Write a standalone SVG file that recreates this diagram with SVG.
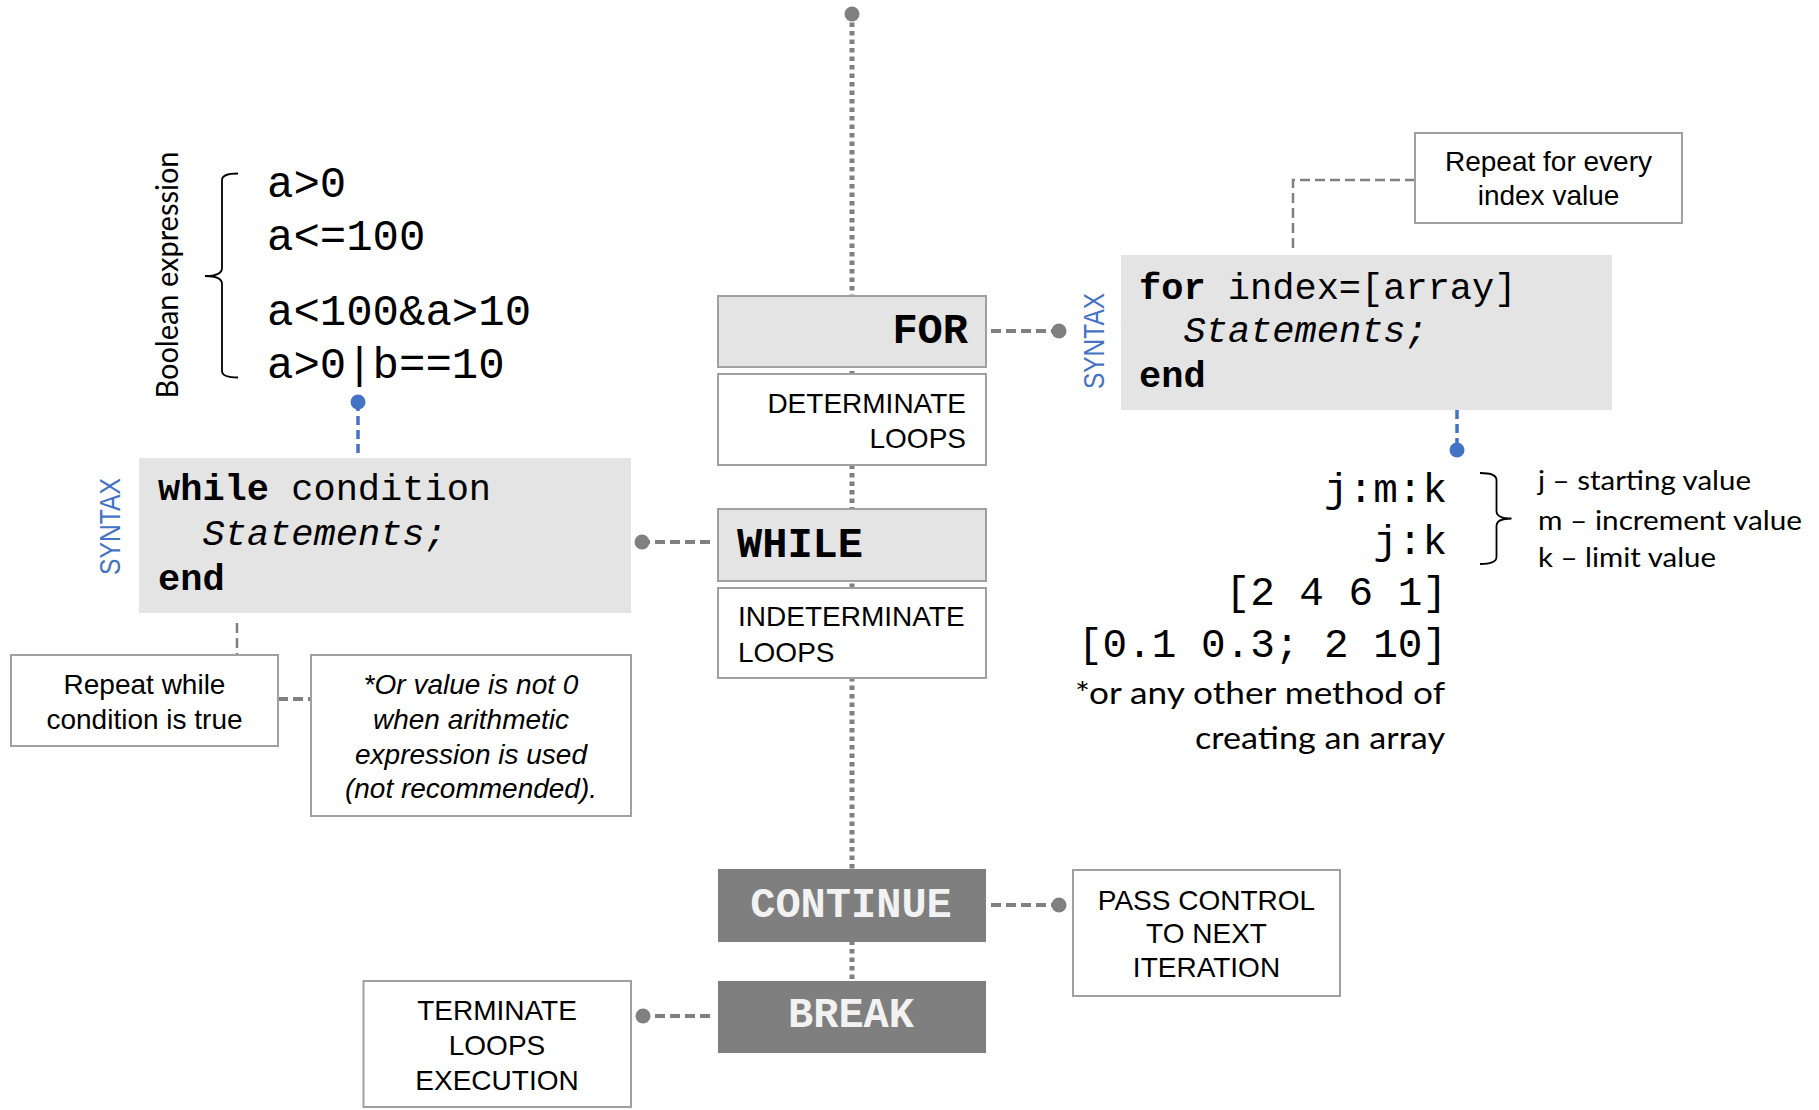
<svg xmlns="http://www.w3.org/2000/svg" width="1819" height="1110" viewBox="0 0 1819 1110">
<style>
.box{fill:#fff;stroke:#a0a0a0;stroke-width:2}
.lbox{fill:#e4e4e4;stroke:#a0a0a0;stroke-width:2}
.dbox{fill:#7f7f7f}
.code{fill:#e4e4e4}
.t{font-family:"Liberation Sans",Arial,sans-serif;font-size:28px;fill:#000}
.it{font-style:italic}
.mono{font-family:"Liberation Mono","Courier New",monospace;fill:#000}
.b{font-weight:bold}
.cal{font-family:Lato,"Open Sans",sans-serif;fill:#000}
.syn{font-family:"Liberation Sans",Arial,sans-serif;fill:#4472c4;font-size:29px}
.spine{stroke:#808080;stroke-width:5;stroke-dasharray:4.5 4;fill:none}
.dash{stroke:#808080;stroke-width:4;stroke-dasharray:10 5;fill:none}
.thin{stroke:#808080;stroke-width:2.5;stroke-dasharray:10 5;fill:none}
.blue{stroke:#4472c4;stroke-width:3.5;stroke-dasharray:9 5;fill:none}
.brace{stroke:#000;stroke-width:1.8;fill:none}
.gdot{fill:#808080}
.bdot{fill:#4472c4}
</style>
<rect width="1819" height="1110" fill="#fff"/>

<g id="connectors">
  <line class="spine" x1="852" y1="14" x2="852" y2="981"/>
  <circle class="gdot" cx="852" cy="14" r="7.5"/>
  <line class="dash" x1="991" y1="331" x2="1059" y2="331"/>
  <circle class="gdot" cx="1059" cy="331" r="7.5"/>
  <line class="dash" x1="710" y1="542" x2="642" y2="542"/>
  <circle class="gdot" cx="642" cy="542" r="7.5"/>
  <line class="dash" x1="991" y1="905" x2="1059" y2="905"/>
  <circle class="gdot" cx="1059" cy="905" r="7.5"/>
  <line class="dash" x1="710" y1="1016" x2="643" y2="1016"/>
  <circle class="gdot" cx="643" cy="1016" r="7.5"/>
  <path class="thin" d="M1415 180 H1293 V253"/>
  <line class="thin" x1="237" y1="623" x2="237" y2="655"/>
  <line class="dash" x1="278" y1="699" x2="311" y2="699"/>
  <line class="blue" x1="1457" y1="410" x2="1457" y2="450"/>
  <circle class="bdot" cx="1457" cy="450" r="7.5"/>
  <line class="blue" x1="358" y1="402" x2="358" y2="458"/>
  <circle class="bdot" cx="358" cy="402" r="7.5"/>
</g>

<g id="for">
  <rect class="lbox" x="718" y="296" width="268" height="71"/>
  <text class="mono b" x="968" y="343" font-size="42" text-anchor="end">FOR</text>
</g>
<g id="determinate">
  <rect class="box" x="718" y="374" width="268" height="91"/>
  <text class="t" x="966" y="412.5" text-anchor="end">DETERMINATE</text>
  <text class="t" x="966" y="447.5" text-anchor="end">LOOPS</text>
</g>
<g id="while">
  <rect class="lbox" x="718" y="509" width="268" height="72"/>
  <text class="mono b" x="737" y="557" font-size="42">WHILE</text>
</g>
<g id="indeterminate">
  <rect class="box" x="718" y="588" width="268" height="90"/>
  <text class="t" x="738" y="626">INDETERMINATE</text>
  <text class="t" x="738" y="661.5">LOOPS</text>
</g>
<g id="continue">
  <rect class="dbox" x="718" y="869" width="268" height="73"/>
  <text class="mono b" x="851" y="917" font-size="42" text-anchor="middle" fill="#f2f2f2" style="fill:#f2f2f2">CONTINUE</text>
</g>
<g id="break">
  <rect class="dbox" x="718" y="981" width="268" height="72"/>
  <text class="mono b" x="851" y="1027" font-size="42" text-anchor="middle" style="fill:#f2f2f2">BREAK</text>
</g>
<g id="pass-control">
  <rect class="box" x="1073" y="870" width="267" height="126"/>
  <text class="t" x="1206.5" y="910" text-anchor="middle" font-size="28.5">PASS CONTROL</text>
  <text class="t" x="1206.5" y="943" text-anchor="middle" font-size="28.5">TO NEXT</text>
  <text class="t" x="1206.5" y="977" text-anchor="middle" font-size="28.5">ITERATION</text>
</g>
<g id="terminate">
  <rect class="box" x="363.5" y="981" width="267.5" height="126"/>
  <text class="t" x="497" y="1020" text-anchor="middle">TERMINATE</text>
  <text class="t" x="497" y="1055" text-anchor="middle">LOOPS</text>
  <text class="t" x="497" y="1090" text-anchor="middle">EXECUTION</text>
</g>
<g id="repeat-while">
  <rect class="box" x="11" y="655" width="267" height="91"/>
  <text class="t" x="144.5" y="693.5" text-anchor="middle">Repeat while</text>
  <text class="t" x="144.5" y="728.5" text-anchor="middle">condition is true</text>
</g>
<g id="or-value">
  <rect class="box" x="311" y="655" width="320" height="161"/>
  <text class="t it" x="471" y="693.5" text-anchor="middle">*Or value is not 0</text>
  <text class="t it" x="471" y="728.5" text-anchor="middle">when arithmetic</text>
  <text class="t it" x="471" y="763.5" text-anchor="middle">expression is used</text>
  <text class="t it" x="471" y="798" text-anchor="middle">(not recommended).</text>
</g>
<g id="repeat-for">
  <rect class="box" x="1415" y="133" width="267" height="90"/>
  <text class="t" x="1548.5" y="170.5" text-anchor="middle" font-size="28.5">Repeat for every</text>
  <text class="t" x="1548.5" y="205" text-anchor="middle" font-size="28.5">index value</text>
</g>
<g id="while-syntax">
  <rect class="code" x="139" y="458" width="492" height="155"/>
  <text class="mono" x="158" y="500" font-size="37"><tspan class="b">while</tspan> condition</text>
  <text class="mono it" x="202.5" y="545" font-size="37">Statements;</text>
  <text class="mono b" x="158" y="590" font-size="37">end</text>
  <text class="syn" transform="translate(120 526.5) rotate(-90)" text-anchor="middle" textLength="97" lengthAdjust="spacingAndGlyphs">SYNTAX</text>
</g>
<g id="for-syntax">
  <rect class="code" x="1121" y="255" width="491" height="155"/>
  <text class="mono" x="1139" y="298.5" font-size="37"><tspan class="b">for</tspan> index=[array]</text>
  <text class="mono it" x="1183.5" y="342" font-size="37">Statements;</text>
  <text class="mono b" x="1139" y="387" font-size="37">end</text>
  <text class="syn" transform="translate(1104 341) rotate(-90)" text-anchor="middle" textLength="96" lengthAdjust="spacingAndGlyphs">SYNTAX</text>
</g>
<g id="boolean-expressions">
  <text class="cal" transform="translate(178 275) rotate(-90)" text-anchor="middle" font-size="30" textLength="247" lengthAdjust="spacingAndGlyphs">Boolean expression</text>
  <path class="brace" d="M238 173.5 Q222 173.5 222 180 V268 Q222 276 205 276 Q222 276 222 284 V371 Q222 377.5 238 377.5"/>
  <text class="mono" x="267" y="197" font-size="44">a&gt;0</text>
  <text class="mono" x="267" y="249.5" font-size="44">a&lt;=100</text>
  <text class="mono" x="267" y="325" font-size="44">a&lt;100&amp;a&gt;10</text>
  <text class="mono" x="267" y="377.5" font-size="44">a&gt;0|b==10</text>
</g>
<g id="array-forms">
  <text class="mono" x="1447" y="502" font-size="41" text-anchor="end">j:m:k</text>
  <text class="mono" x="1447" y="553.5" font-size="41" text-anchor="end">j:k</text>
  <path class="brace" d="M1480 473 Q1496.5 473 1496.5 480 V511 Q1496.5 518.5 1511.5 518.5 Q1496.5 518.5 1496.5 526 V557 Q1496.5 564 1480 564"/>
  <text class="cal" x="1538" y="490" font-size="26" textLength="213" lengthAdjust="spacingAndGlyphs">j – starting value</text>
  <text class="cal" x="1538" y="529.5" font-size="26" textLength="264" lengthAdjust="spacingAndGlyphs">m – increment value</text>
  <text class="cal" x="1538" y="567" font-size="26" textLength="178" lengthAdjust="spacingAndGlyphs">k – limit value</text>
  <text class="mono" x="1447" y="605" font-size="41" text-anchor="end">[2 4 6 1]</text>
  <text class="mono" x="1447" y="657" font-size="41" text-anchor="end">[0.1 0.3; 2 10]</text>
  <text class="cal" x="1445" y="703.5" font-size="30" text-anchor="end" textLength="370" lengthAdjust="spacingAndGlyphs">*or any other method of</text>
  <text class="cal" x="1445" y="748.5" font-size="30" text-anchor="end" textLength="250" lengthAdjust="spacingAndGlyphs">creating an array</text>
</g>
</svg>
